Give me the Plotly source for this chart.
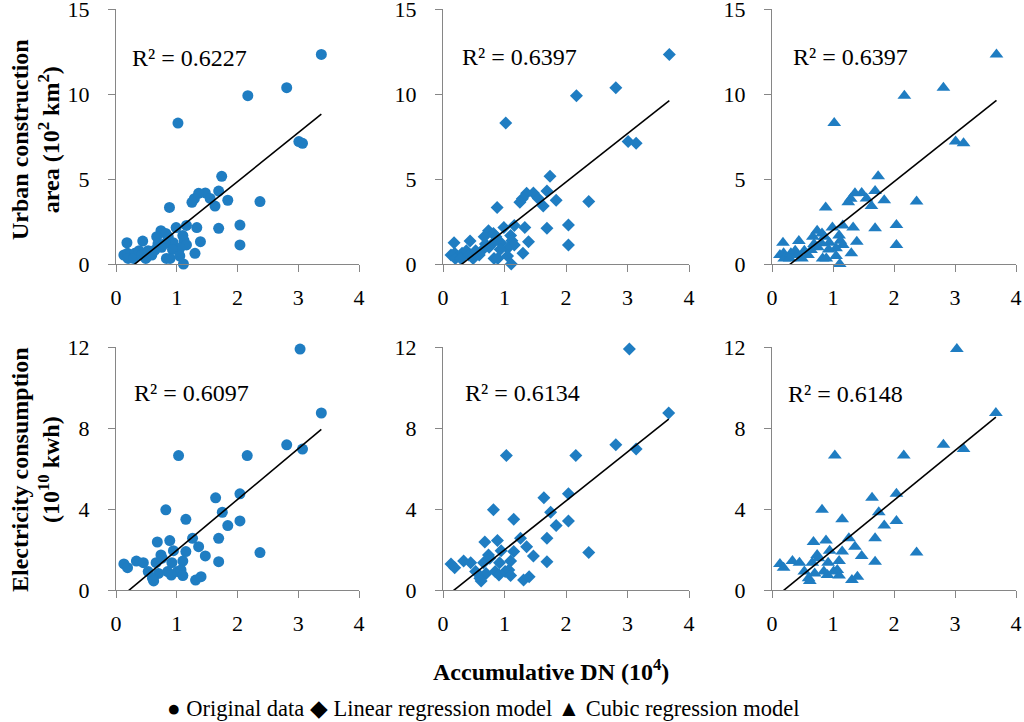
import plotly.graph_objects as go
from plotly.subplots import make_subplots

# ---------------- data ----------------
# Urban construction area (10^2 km^2) vs accumulative DN (10^4)
area_x_orig = [3.38, 2.81, 2.17, 1.02, 3.01, 3.07, 1.74, 1.69, 1.47, 1.36, 1.29, 1.25, 1.55, 1.84,
               1.63, 2.37, 0.88, 1.16, 0.99, 1.33, 1.69, 2.04, 0.74, 0.82, 0.67, 0.86, 1.10, 1.12,
               1.39, 0.94, 0.81, 0.69, 1.16, 0.75, 1.05, 0.93, 2.04, 1.30, 1.11, 0.44, 0.18, 0.13,
               0.19, 0.20, 0.31, 0.29, 0.38, 0.42, 0.53, 0.49, 0.59, 0.64, 0.83, 0.89, 1.05]
area_x_model = [3.68, 2.81, 2.17, 1.02, 3.01, 3.14, 1.74, 1.69, 1.47, 1.36, 1.29, 1.25, 1.55, 1.84,
                1.63, 2.37, 0.88, 1.16, 0.99, 1.33, 1.69, 2.04, 0.74, 0.82, 0.67, 0.86, 1.10, 1.12,
                1.39, 0.94, 0.81, 0.69, 1.16, 0.75, 1.05, 0.93, 2.04, 1.30, 1.11, 0.44, 0.18, 0.13,
                0.19, 0.20, 0.31, 0.29, 0.38, 0.42, 0.53, 0.49, 0.59, 0.64, 0.83, 0.89, 1.05]
area_y = [12.33, 10.37, 9.90, 8.29, 7.20, 7.10, 5.16, 4.29, 4.18, 4.16, 3.84, 3.63, 3.86, 3.75,
          3.41, 3.67, 3.33, 2.27, 2.14, 2.14, 2.10, 2.29, 1.96, 1.80, 1.61, 1.61, 1.67, 1.37,
          1.31, 1.25, 1.22, 1.18, 1.12, 0.98, 0.92, 0.86, 1.12, 0.63, 0.00, 1.35, 1.25, 0.53,
          0.63, 0.33, 0.63, 0.33, 0.78, 0.53, 0.78, 0.33, 0.53, 0.82, 0.33, 0.33, 0.47]

# Electricity consumption (10^10 kwh) vs accumulative DN (10^4)
elec_x_orig = [3.03, 3.38, 2.81, 3.07, 1.03, 2.16, 2.04, 1.64, 0.82, 1.75, 1.15, 2.04, 1.84, 1.26,
               1.69, 0.68, 0.885, 1.36, 0.945, 1.15, 0.74, 1.47, 2.37, 0.335, 0.45, 0.13, 0.19,
               0.66, 0.92, 1.10, 1.69, 0.53, 0.70, 0.85, 0.91, 1.01, 1.07, 1.10, 0.60, 0.62, 1.31,
               1.40, 0.76]
elec_x_model = [3.03, 3.67, 2.81, 3.14, 1.03, 2.16, 2.04, 1.64, 0.82, 1.75, 1.15, 2.04, 1.84, 1.26,
                1.69, 0.68, 0.885, 1.36, 0.945, 1.15, 0.74, 1.47, 2.37, 0.335, 0.45, 0.13, 0.19,
                0.66, 0.92, 1.10, 1.69, 0.53, 0.70, 0.85, 0.91, 1.01, 1.07, 1.10, 0.60, 0.62, 1.31,
                1.40, 0.76]
elec_y = [11.90, 8.74, 7.17, 6.96, 6.64, 6.64, 4.75, 4.55, 3.96, 3.84, 3.49, 3.41, 3.18, 2.55,
          2.55, 2.37, 2.44, 2.14, 1.94, 1.90, 1.73, 1.68, 1.85, 1.43, 1.35, 1.29, 1.10,
          1.35, 1.35, 1.43, 1.40, 0.91, 0.82, 0.91, 0.74, 0.91, 0.99, 0.71, 0.58, 0.45, 0.49,
          0.66, 1.57]

# Linear trendlines (slope, intercept) and R^2 per panel
trend_slope = [2.87, 2.85, 2.85, 2.51, 2.42, 2.46]
trend_intercept = [-0.89, -0.88, -0.86, -0.55, -0.44, -0.49]
r2_labels = ["R² = 0.6227", "R² = 0.6397", "R² = 0.6397",
             "R² = 0.6097", "R² = 0.6134", "R² = 0.6148"]

x_ticks = [0, 1, 2, 3, 4]
area_ticks = [0, 5, 10, 15]
elec_ticks = [0, 4, 8, 12]

# ---------------- figure ----------------
W, H = 1024, 722
BLUE = "#1f7dc2"
AXIS = "#868686"
FONT = "Liberation Serif"


def px_x(p):
    return p / W


def px_y(p):
    return (H - p) / H


fig = make_subplots(rows=2, cols=3)

panels = [
    (1, 1, area_x_orig, area_y, "circle", 11),
    (1, 2, area_x_model, area_y, "diamond", 10),
    (1, 3, area_x_model, area_y, "triangle-up", 12),
    (2, 1, elec_x_orig, elec_y, "circle", 11),
    (2, 2, elec_x_model, elec_y, "diamond", 10),
    (2, 3, elec_x_model, elec_y, "triangle-up", 12),
]

for i, (r, c, xs, ys, sym, sz) in enumerate(panels):
    fig.add_trace(go.Scatter(x=xs, y=ys, mode="markers",
                             marker=dict(symbol=sym, size=sz, color=BLUE, line=dict(width=0)),
                             showlegend=False, cliponaxis=False), row=r, col=c)
    x0, x1 = min(xs), max(xs)
    fig.add_trace(go.Scatter(x=[x0, x1],
                             y=[trend_slope[i] * x0 + trend_intercept[i],
                                trend_slope[i] * x1 + trend_intercept[i]],
                             mode="lines", line=dict(color="black", width=1.6),
                             showlegend=False), row=r, col=c)

# axis placement (pixel-based domains)
col_px = [(116, 359), (443, 689), (772, 1016)]
row_px = [(9, 264), (347, 590)]  # (top, bottom) in pixels from top

for r in (1, 2):
    for c in (1, 2, 3):
        left, right = col_px[c - 1]
        top, bot = row_px[r - 1]
        yt = area_ticks if r == 1 else elec_ticks
        fig.update_xaxes(domain=[px_x(left), px_x(right)], range=[0, 4], tickvals=x_ticks,
                         row=r, col=c)
        fig.update_yaxes(domain=[px_y(bot), px_y(top)], range=[0, yt[-1]],
                         tickvals=yt, row=r, col=c)

fig.update_xaxes(showline=True, linecolor=AXIS, linewidth=1.3, ticks="outside",
                 ticklen=7, tickcolor=AXIS, tickwidth=1.3, showgrid=False, zeroline=False,
                 automargin=False, ticklabelstandoff=6, ticklabeloverflow="allow",
                 tickfont=dict(family=FONT, size=22, color="black"))
fig.update_yaxes(showline=True, linecolor=AXIS, linewidth=1.3, ticks="outside",
                 ticklen=7, tickcolor=AXIS, tickwidth=1.3, showgrid=False, zeroline=False,
                 automargin=False, ticklabelstandoff=14, ticklabeloverflow="allow",
                 tickfont=dict(family=FONT, size=22, color="black"))

# R^2 annotations (data coordinates)
r2_pos = [(0.23, 12.1), (0.27, 12.2), (0.31, 12.2), (0.26, 9.75), (0.32, 9.75), (0.23, 9.7)]
for i, (px, py) in enumerate(r2_pos):
    idx = i + 1
    xref = "x" if idx == 1 else f"x{idx}"
    yref = "y" if idx == 1 else f"y{idx}"
    fig.add_annotation(x=px, y=py, xref=xref, yref=yref, text=r2_labels[i],
                       showarrow=False, xanchor="left", yanchor="middle",
                       font=dict(family=FONT, size=24, color="black"))

# axis titles
fig.add_annotation(x=px_x(35), y=px_y(140), xref="paper", yref="paper",
                   xanchor="center", yanchor="middle",
                   text="<b>Urban construction<br>area (10<sup>2</sup> km<sup>2</sup>)</b>",
                   textangle=-90, showarrow=False,
                   font=dict(family=FONT, size=24, color="black"))
fig.add_annotation(x=px_x(35), y=px_y(470), xref="paper", yref="paper",
                   xanchor="center", yanchor="middle",
                   text="<b>Electricity consumption<br>(10<sup>10</sup> kwh)</b>",
                   textangle=-90, showarrow=False,
                   font=dict(family=FONT, size=24, color="black"))
fig.add_annotation(x=px_x(551), y=px_y(670), xref="paper", yref="paper",
                   xanchor="center", yanchor="middle",
                   text="<b>Accumulative DN (10<sup>4</sup>)</b>", showarrow=False,
                   font=dict(family=FONT, size=24, color="black"))
fig.add_annotation(x=px_x(483), y=px_y(708), xref="paper", yref="paper",
                   xanchor="center", yanchor="middle",
                   text="● Original data ◆ Linear regression model ▲ Cubic regression model",
                   showarrow=False, font=dict(family=FONT, size=22.5, color="black"))

fig.update_layout(width=W, height=H, margin=dict(l=0, r=0, t=0, b=0, autoexpand=False),
                  font=dict(family=FONT, color="black"),
                  paper_bgcolor="white", plot_bgcolor="white", showlegend=False)

# remove the page's default body margin so the figure fills the window exactly
fig.write_html("out.html", config={"displayModeBar": False},
               post_script="document.body.style.margin='0';document.body.style.overflow='hidden';")
